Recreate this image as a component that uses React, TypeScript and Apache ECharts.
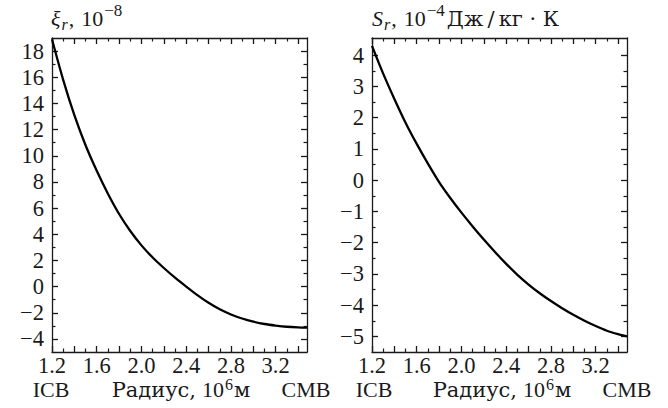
import React, { useEffect, useRef } from "react";
import * as echarts from "echarts";

// radius, 10^6 m
const radius = [1.2, 1.3, 1.4, 1.5, 1.6, 1.7, 1.8, 1.9, 2.0, 2.1, 2.2, 2.3, 2.4, 2.5, 2.6, 2.7, 2.8, 2.9, 3.0, 3.1, 3.2, 3.3, 3.4, 3.48];
// xi_r, 10^-8
const xiValues = [18.9, 15.8, 13.1, 10.8, 8.85, 7.1, 5.55, 4.25, 3.15, 2.22, 1.42, 0.68, 0.0, -0.65, -1.24, -1.74, -2.13, -2.44, -2.68, -2.86, -2.98, -3.07, -3.12, -3.14];
// S_r, 10^-4 J/kg K
const entropyValues = [4.3, 3.41, 2.6, 1.84, 1.16, 0.53, -0.06, -0.57, -1.04, -1.48, -1.9, -2.3, -2.68, -3.03, -3.34, -3.62, -3.87, -4.1, -4.31, -4.5, -4.67, -4.82, -4.93, -5.0];

const xLabelTicks = [1.2, 1.6, 2.0, 2.4, 2.8, 3.2];
const xMajorTicks = [1.2, 1.4, 1.6, 1.8, 2.0, 2.2, 2.4, 2.6, 2.8, 3.0, 3.2, 3.4];
const xMinorTicks = [1.3, 1.5, 1.7, 1.9, 2.1, 2.3, 2.5, 2.7, 2.9, 3.1, 3.3];
const xiLabelTicks = [-4, -2, 0, 2, 4, 6, 8, 10, 12, 14, 16, 18];
const xiMinorTicks = [-3, -1, 1, 3, 5, 7, 9, 11, 13, 15, 17];
const sLabelTicks = [-5, -4, -3, -2, -1, 0, 1, 2, 3, 4];
const sMinorTicks = [-4.5, -3.5, -2.5, -1.5, -0.5, 0.5, 1.5, 2.5, 3.5];

const X_MIN = 1.2;
const X_MAX = 3.48;
const XI_MIN = -5;
const XI_MAX = 19;
const S_MIN = -5.5;
const S_MAX = 4.55;

const FONT = "Liberation Serif";
const WIDE_FONT = "DejaVu Serif";
const INK = "#1a1a1a";
const LABEL_SIZE = 22.5;

const minus = (s: string) => s.replace("-", "\u2212");

function axisPair(
  gridIndex: number,
  position: string,
  min: number,
  max: number,
  majors: number[],
  minors: number[],
  labels: number[] | null,
  fmt: (v: number) => string,
  margin: number
) {
  const common = {
    type: "value",
    gridIndex,
    position,
    min,
    max,
    splitLine: { show: false },
    axisPointer: { show: false },
  };
  return [
    {
      ...common,
      axisLine: { show: true, onZero: false, lineStyle: { color: INK, width: 1.3 } },
      axisTick: {
        show: true,
        inside: true,
        length: 6,
        customValues: majors,
        lineStyle: { color: INK, width: 1.3 },
      },
      axisLabel: labels
        ? {
            show: true,
            customValues: labels,
            formatter: fmt,
            color: INK,
            fontFamily: FONT,
            fontSize: LABEL_SIZE,
            lineHeight: 14,
            margin,
          }
        : { show: false },
    },
    {
      ...common,
      axisLine: { show: false, onZero: false },
      axisTick: {
        show: true,
        inside: true,
        length: 3.5,
        customValues: minors,
        lineStyle: { color: INK, width: 1.2 },
      },
      axisLabel: { show: false },
    },
  ];
}

const fmtX = (v: number) => v.toFixed(1);
const fmtY = (v: number) => minus(String(v));

type Part = { t: string; k: "n" | "i" | "c" | "sub" | "sup" | "sup2"; gap?: number };

const KIND: Record<string, { family: string; size: number; italic: boolean; shift: number }> = {
  n: { family: FONT, size: 22, italic: false, shift: 0 },
  i: { family: FONT, size: 22, italic: true, shift: 0 },
  c: { family: WIDE_FONT, size: 21, italic: false, shift: 0 },
  sub: { family: FONT, size: 16, italic: true, shift: 4 },
  sup: { family: FONT, size: 17, italic: false, shift: -10 },
  sup2: { family: FONT, size: 16, italic: false, shift: -7 },
};

const fontString = (k: string) => {
  const s = KIND[k];
  return `${s.italic ? "italic " : ""}${s.size}px "${s.family}"`;
};

function compose(parts: Part[], x: number, baseline: number, align: "left" | "center") {
  const ctx = document.createElement("canvas").getContext("2d")!;
  const widths = parts.map((p) => {
    ctx.font = fontString(p.k);
    return ctx.measureText(p.t).width;
  });
  const total = parts.reduce((acc, p, i) => acc + (p.gap || 0) + widths[i], 0);
  let cx = align === "center" ? x - total / 2 : x;
  return parts.map((p, i) => {
    cx += p.gap || 0;
    const s = KIND[p.k];
    const el = {
      type: "text",
      x: cx,
      y: baseline + s.shift - 0.34 * s.size,
      style: {
        text: p.t,
        font: fontString(p.k),
        fill: INK,
        align: "left",
        verticalAlign: "middle",
      },
    };
    cx += widths[i];
    return el;
  });
}

export default function App() {
  const ref = useRef<HTMLDivElement>(null);
  useEffect(() => {
    if (!ref.current) return;
    const chart = echarts.init(ref.current, null, { renderer: "svg" });
    const leftX = [
      ...axisPair(0, "bottom", X_MIN, X_MAX, xMajorTicks, xMinorTicks, xLabelTicks, fmtX, 6),
      ...axisPair(0, "top", X_MIN, X_MAX, xMajorTicks, xMinorTicks, null, fmtX, 6),
    ];
    const rightX = [
      ...axisPair(1, "bottom", X_MIN, X_MAX, xMajorTicks, xMinorTicks, xLabelTicks, fmtX, 6),
      ...axisPair(1, "top", X_MIN, X_MAX, xMajorTicks, xMinorTicks, null, fmtX, 6),
    ];
    const leftY = [
      ...axisPair(0, "left", XI_MIN, XI_MAX, xiLabelTicks, xiMinorTicks, xiLabelTicks, fmtY, 8),
      ...axisPair(0, "right", XI_MIN, XI_MAX, xiLabelTicks, xiMinorTicks, null, fmtY, 8),
    ];
    const rightY = [
      ...axisPair(1, "left", S_MIN, S_MAX, sLabelTicks, sMinorTicks, sLabelTicks, fmtY, 8),
      ...axisPair(1, "right", S_MIN, S_MAX, sLabelTicks, sMinorTicks, null, fmtY, 8),
    ];
    const radiusLabel: Part[] = [
      { t: "Радиус,", k: "c" },
      { t: "10", k: "n", gap: 6 },
      { t: "6", k: "sup2", gap: 1 },
      { t: "м", k: "c", gap: 1 },
    ];
    chart.setOption({
      animation: false,
      textStyle: { fontFamily: FONT },
      grid: [
        { left: 52, right: 361, top: 38, bottom: 56 },
        { left: 372, right: 41, top: 38, bottom: 56 },
      ],
      xAxis: [...leftX, ...rightX],
      yAxis: [...leftY, ...rightY],
      series: [
        {
          type: "line",
          xAxisIndex: 0,
          yAxisIndex: 0,
          data: radius.map((r, i) => [r, xiValues[i]]),
          showSymbol: false,
          smooth: 0.3,
          lineStyle: { color: "#000", width: 2.3 },
        },
        {
          type: "line",
          xAxisIndex: 4,
          yAxisIndex: 4,
          data: radius.map((r, i) => [r, entropyValues[i]]),
          showSymbol: false,
          smooth: 0.3,
          lineStyle: { color: "#000", width: 2.3 },
        },
      ],
      graphic: [
        ...compose(
          [
            { t: "ξ", k: "i" },
            { t: "r", k: "sub", gap: 1 },
            { t: ",", k: "n", gap: 1 },
            { t: "10", k: "n", gap: 7 },
            { t: "\u22128", k: "sup", gap: 1 },
          ],
          51,
          26,
          "left"
        ),
        ...compose(
          [
            { t: "S", k: "i" },
            { t: "r", k: "sub", gap: 1 },
            { t: ",", k: "n", gap: 1 },
            { t: "10", k: "n", gap: 7 },
            { t: "\u22124", k: "sup", gap: 1 },
            { t: "Дж\u2009/\u2009кг · К", k: "c", gap: 2 },
          ],
          372,
          26,
          "left"
        ),
        ...compose([{ t: "ICB", k: "n" }], 51, 397, "center"),
        ...compose(radiusLabel, 181, 397, "center"),
        ...compose([{ t: "CMB", k: "n" }], 306, 397, "center"),
        ...compose([{ t: "ICB", k: "n" }], 374, 397, "center"),
        ...compose(radiusLabel, 502, 397, "center"),
        ...compose([{ t: "CMB", k: "n" }], 627, 397, "center"),
      ],
    });
    return () => chart.dispose();
  }, []);
  return (
    <div
      ref={ref}
      style={{ position: "absolute", left: 0, top: 0, width: 668, height: 408, background: "#fff" }}
    />
  );
}
